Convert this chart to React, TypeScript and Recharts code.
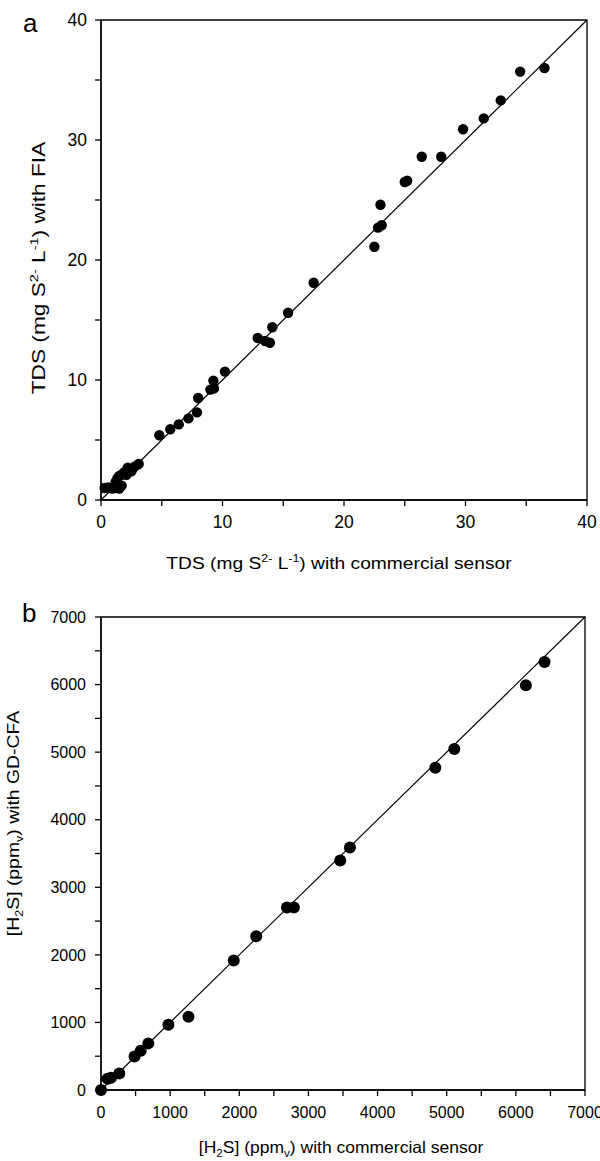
import React from 'react';
import { ScatterChart, Scatter, XAxis, YAxis, ReferenceLine, ReferenceArea, Label } from 'recharts';

// Panel a: TDS (mg S2- L-1), commercial sensor (x) vs FIA (y)
const tdsSensor = [0.3, 0.6, 0.9, 1.1, 1.4, 1.7, 1.5, 1.2, 1.35, 1.5, 1.7, 1.9, 2.1, 2.3, 2.5, 2.2, 2.6, 2.8, 3.1,
  4.8, 5.7, 6.4, 7.2, 7.9, 8.0, 9.0, 9.3, 9.25, 10.2,
  12.9, 13.5, 13.9, 14.1, 15.4, 17.5,
  22.5, 22.8, 23.1, 23.0, 25.0, 25.2, 26.4, 28.0, 29.8, 31.5, 32.9, 34.5, 36.5];
const tdsFIA = [1.0, 1.05, 0.95, 1.0, 1.1, 1.2, 0.95, 1.5, 1.8, 2.0, 2.1, 2.3, 2.1, 2.5, 2.4, 2.7, 2.6, 2.8, 3.0,
  5.4, 5.9, 6.3, 6.8, 7.3, 8.5, 9.2, 9.3, 9.95, 10.7,
  13.5, 13.25, 13.1, 14.4, 15.6, 18.1,
  21.1, 22.7, 22.9, 24.6, 26.5, 26.6, 28.6, 28.6, 30.9, 31.8, 33.3, 35.7, 36.0];
const tdsTicks = [0, 5, 10, 15, 20, 25, 30, 35, 40];

// Panel b: [H2S] (ppmv), commercial sensor (x) vs GD-CFA (y)
const h2sSensor = [0, 95, 145, 265, 485, 575, 685, 975, 1265, 1920, 2245, 2690, 2790, 3460, 3600, 4835, 5110, 6145, 6415];
const h2sGDCFA = [0, 165, 180, 245, 495, 580, 690, 965, 1085, 1915, 2275, 2700, 2700, 3395, 3590, 4770, 5045, 5990, 6335];
const h2sTicks = [0, 500, 1000, 1500, 2000, 2500, 3000, 3500, 4000, 4500, 5000, 5500, 6000, 6500, 7000];

const dataA = tdsSensor.map((x, i) => ({ x, y: tdsFIA[i] }));
const dataB = h2sSensor.map((x, i) => ({ x, y: h2sGDCFA[i] }));

const FONT = "'Liberation Sans', Arial, Helvetica, sans-serif";

const makeXTick = (major: number, fs: number) => (p: any) => {
  const v = p.payload.value;
  if (v % major !== 0) return <g />;
  return (
    <text x={p.x} y={p.y} dy="0.71em" textAnchor="middle" fontSize={fs} fontFamily={FONT} fill="#000">{v}</text>
  );
};
const makeYTick = (major: number, fs: number) => (p: any) => {
  const v = p.payload.value;
  if (v % major !== 0) return <g />;
  return (
    <text x={p.x} y={p.y} dy="0.355em" textAnchor="end" fontSize={fs} fontFamily={FONT} fill="#000">{v}</text>
  );
};

const xLabelA = (props: any) => {
  const { x, y, width } = props.viewBox;
  const cx = x + width / 2 - 5;
  const cy = y + 69;
  return (
    <g transform={`translate(${cx},${cy}) scale(1.13,1)`}>
      <text x={0} y={0} textAnchor="middle" fontSize={17} fontFamily={FONT} fill="#000">
        TDS (mg S<tspan dy={-7} fontSize={11}>2-</tspan><tspan dy={7}> L</tspan><tspan dy={-7} fontSize={11}>-1</tspan><tspan dy={7}>) with commercial sensor</tspan>
      </text>
    </g>
  );
};
const yLabelA = (props: any) => {
  const { x, y, height } = props.viewBox;
  const cx = x + 45;
  const cy = y + height / 2 + 8;
  return (
    <g>
      <text x={x + 23} y={y + 12} fontSize={26} fontFamily={FONT} fill="#000">a</text>
      <g transform={`translate(${cx},${cy}) rotate(-90) scale(1.26,1)`}>
        <text x={0} y={0} textAnchor="middle" fontSize={18} fontFamily={FONT} fill="#000">
          TDS (mg S<tspan dy={-7} fontSize={11.5}>2-</tspan><tspan dy={7}> L</tspan><tspan dy={-7} fontSize={11.5}>-1</tspan><tspan dy={7}>) with FIA</tspan>
        </text>
      </g>
    </g>
  );
};
const xLabelB = (props: any) => {
  const { x, y, width } = props.viewBox;
  const cx = x + width / 2 - 2;
  const cy = y + 63;
  return (
    <g transform={`translate(${cx},${cy}) scale(1.06,1)`}>
      <text x={0} y={0} textAnchor="middle" fontSize={16.5} fontFamily={FONT} fill="#000">
        [H<tspan dy={4} fontSize={11}>2</tspan><tspan dy={-4}>S] (ppm</tspan><tspan dy={4} fontSize={11}>v</tspan><tspan dy={-4}>) with commercial sensor</tspan>
      </text>
    </g>
  );
};
const yLabelB = (props: any) => {
  const { x, y, height } = props.viewBox;
  const cx = x + 19;
  const cy = y + height / 2 - 30;
  return (
    <g>
      <text x={x + 22} y={y + 5} fontSize={26} fontFamily={FONT} fill="#000">b</text>
      <g transform={`translate(${cx},${cy}) rotate(-90) scale(1.14,1)`}>
        <text x={0} y={0} textAnchor="middle" fontSize={17} fontFamily={FONT} fill="#000">
          [H<tspan dy={4} fontSize={11}>2</tspan><tspan dy={-4}>S] (ppm</tspan><tspan dy={4} fontSize={11}>v</tspan><tspan dy={-4}>) with GD-CFA</tspan>
        </text>
      </g>
    </g>
  );
};

const dotA = (p: any) => <circle cx={p.cx} cy={p.cy} r={5.2} fill="#000" />;
const dotB = (p: any) => <circle cx={p.cx} cy={p.cy} r={6} fill="#000" />;

export default function App() {
  return (
    <div style={{ position: 'absolute', left: 0, top: 0, width: 600, height: 1161, background: '#fff' }}>
      <ScatterChart width={600} height={580} margin={{ top: 20, right: 13, bottom: 0, left: 0 }}>
        <XAxis type="number" dataKey="x" domain={[0, 40]} ticks={tdsTicks} height={80}
          stroke="#000" strokeWidth={1.3} tickSize={6} tickMargin={10} tick={makeXTick(10, 17.5)} interval={0}>
          <Label content={xLabelA} />
        </XAxis>
        <YAxis type="number" dataKey="y" domain={[0, 40]} ticks={tdsTicks} width={101}
          stroke="#000" strokeWidth={1.3} tickSize={6} tickMargin={8} tick={makeYTick(10, 17.5)} interval={0}>
          <Label content={yLabelA} />
        </YAxis>
        <ReferenceArea x1={0} x2={40} y1={0} y2={40} fill="none" stroke="#000" strokeWidth={1.3} fillOpacity={0} />
        <ReferenceLine segment={[{ x: 0, y: 0 }, { x: 40, y: 40 }]} stroke="#000" strokeWidth={1.2} />
        <Scatter data={dataA} fill="#000" shape={dotA} isAnimationActive={false} />
      </ScatterChart>
      <ScatterChart width={600} height={581} margin={{ top: 37, right: 15, bottom: 0, left: 0 }}>
        <XAxis type="number" dataKey="x" domain={[0, 7000]} ticks={h2sTicks} height={71}
          stroke="#000" strokeWidth={1.3} tickSize={6} tickMargin={11} tick={makeXTick(1000, 16)} interval={0}>
          <Label content={xLabelB} />
        </XAxis>
        <YAxis type="number" dataKey="y" domain={[0, 7000]} ticks={h2sTicks} width={101}
          stroke="#000" strokeWidth={1.3} tickSize={6} tickMargin={9} tick={makeYTick(1000, 16)} interval={0}>
          <Label content={yLabelB} />
        </YAxis>
        <ReferenceArea x1={0} x2={7000} y1={0} y2={7000} fill="none" stroke="#000" strokeWidth={1.3} fillOpacity={0} />
        <ReferenceLine segment={[{ x: 0, y: 0 }, { x: 7000, y: 7000 }]} stroke="#000" strokeWidth={1.2} />
        <Scatter data={dataB} fill="#000" shape={dotB} isAnimationActive={false} />
      </ScatterChart>
    </div>
  );
}
